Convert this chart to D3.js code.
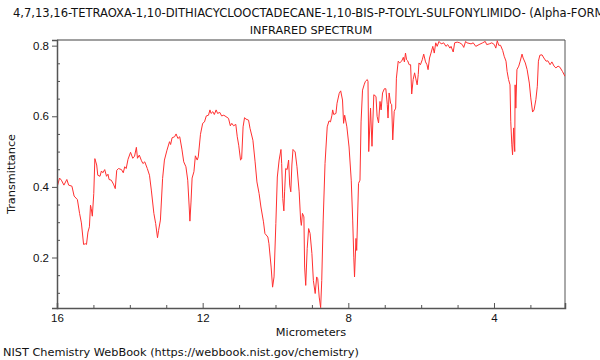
<!DOCTYPE html>
<html>
<head>
<meta charset="utf-8">
<script src="https://cdn.jsdelivr.net/npm/d3@7"></script>
<style>
  body { margin: 0; background: #fff; }
  svg { display: block; font-family: "DejaVu Sans", sans-serif; }
  .tick text { font-size: 11.5px; fill: #111; }
</style>
</head>
<body>
<svg id="chart"></svg>
<script>
// Spectrum (micrometers, transmittance)
const wavelength = [
  15.99,15.93,15.88,15.81,15.73,15.68,15.59,15.53,15.44,15.38,15.33,15.27,15.22,15.19,15.15,15.11,15.08,15.06,15.03,14.99,
  14.96,14.91,14.88,14.82,14.78,14.74,14.69,14.64,14.60,14.57,14.51,14.45,14.40,14.36,14.31,14.23,14.18,14.14,14.10,14.05,
  13.98,13.92,13.87,13.82,13.79,13.74,13.68,13.64,13.59,13.52,13.46,13.41,13.34,13.29,13.24,13.21,13.16,13.10,13.05,12.98,
  12.91,12.88,12.84,12.77,12.73,12.68,12.63,12.57,12.52,12.46,12.41,12.37,12.35,12.32,12.29,12.24,12.20,12.15,12.12,12.06,
  12.00,11.95,11.90,11.84,11.80,11.77,11.72,11.68,11.63,11.59,11.53,11.48,11.42,11.36,11.29,11.24,11.20,11.15,11.09,11.05,
  11.01,10.96,10.93,10.89,10.85,10.81,10.74,10.70,10.62,10.56,10.51,10.45,10.40,10.33,10.29,10.21,10.18,10.12,10.08,10.04,
  9.99,9.95,9.90,9.85,9.83,9.80,9.77,9.75,9.72,9.68,9.64,9.61,9.58,9.55,9.52,9.46,9.41,9.35,9.31,9.29,
  9.26,9.22,9.20,9.17,9.13,9.09,9.05,9.00,8.96,8.91,8.87,8.84,8.80,8.76,8.73,8.69,8.64,8.58,8.53,8.49,
  8.45,8.43,8.40,8.34,8.31,8.25,8.21,8.16,8.13,8.10,8.04,7.98,7.92,7.88,7.85,7.83,7.79,7.77,7.72,7.68,
  7.65,7.61,7.56,7.53,7.48,7.46,7.44,7.39,7.35,7.30,7.24,7.21,7.17,7.13,7.10,7.06,7.01,6.97,6.93,6.91,
  6.88,6.84,6.81,6.78,6.74,6.70,6.68,6.63,6.59,6.53,6.49,6.46,6.43,6.40,6.37,6.33,6.29,6.26,6.22,6.18,
  6.15,6.11,6.08,6.06,6.02,5.97,5.93,5.88,5.84,5.81,5.77,5.73,5.68,5.64,5.60,5.56,5.51,5.45,5.38,5.32,
  5.27,5.21,5.18,5.12,5.08,5.01,4.94,4.87,4.83,4.78,4.74,4.63,4.57,4.50,4.41,4.31,4.24,4.20,4.13,4.06,
  3.99,3.95,3.91,3.87,3.82,3.76,3.72,3.67,3.64,3.60,3.56,3.54,3.51,3.49,3.46,3.43,3.42,3.40,3.37,3.32,
  3.28,3.23,3.20,3.14,3.09,3.03,2.99,2.94,2.90,2.85,2.81,2.78,2.74,2.68,2.63,2.57,2.52,2.46,2.41,2.35,
  2.30,2.24,2.19,2.12,2.05
];
const transmittance = [
  0.402,0.425,0.419,0.405,0.421,0.405,0.402,0.374,0.364,0.325,0.298,0.237,0.239,0.237,0.272,0.287,0.348,0.339,0.317,0.381,
  0.480,0.462,0.433,0.430,0.445,0.440,0.449,0.430,0.436,0.421,0.419,0.408,0.395,0.447,0.452,0.449,0.440,0.457,0.452,0.478,
  0.498,0.481,0.487,0.512,0.481,0.490,0.474,0.466,0.471,0.452,0.433,0.391,0.325,0.296,0.256,0.277,0.306,0.424,0.476,0.504,
  0.528,0.520,0.539,0.542,0.550,0.537,0.542,0.507,0.471,0.457,0.419,0.343,0.303,0.357,0.425,0.443,0.488,0.476,0.485,0.549,
  0.580,0.584,0.601,0.603,0.618,0.608,0.613,0.605,0.618,0.608,0.611,0.601,0.603,0.599,0.594,0.573,0.580,0.573,0.577,0.542,
  0.518,0.476,0.479,0.570,0.596,0.592,0.589,0.566,0.532,0.471,0.414,0.381,0.343,0.301,0.268,0.258,0.239,0.173,0.116,0.145,
  0.296,0.428,0.476,0.506,0.466,0.367,0.332,0.386,0.452,0.449,0.476,0.405,0.386,0.462,0.506,0.499,0.457,0.386,0.306,0.291,
  0.325,0.315,0.173,0.121,0.225,0.282,0.268,0.211,0.135,0.098,0.145,0.140,0.088,0.058,0.135,0.306,0.466,0.570,0.587,0.584,
  0.603,0.618,0.605,0.608,0.637,0.665,0.672,0.646,0.580,0.603,0.570,0.513,0.419,0.306,0.201,0.145,0.254,0.220,0.410,0.419,
  0.584,0.674,0.691,0.699,0.704,0.699,0.500,0.623,0.515,0.661,0.656,0.600,0.581,0.642,0.618,0.666,0.678,0.678,0.633,0.595,
  0.666,0.637,0.633,0.533,0.614,0.623,0.708,0.756,0.751,0.757,0.767,0.754,0.779,0.760,0.757,0.746,0.746,0.663,0.704,0.723,
  0.708,0.689,0.718,0.751,0.746,0.760,0.776,0.754,0.746,0.732,0.765,0.779,0.798,0.779,0.808,0.798,0.812,0.805,0.808,0.798,
  0.803,0.793,0.798,0.782,0.808,0.810,0.808,0.803,0.795,0.812,0.808,0.805,0.808,0.798,0.803,0.808,0.812,0.803,0.805,0.808,
  0.803,0.793,0.814,0.801,0.801,0.786,0.770,0.756,0.727,0.704,0.689,0.586,0.519,0.491,0.567,0.500,0.689,0.623,0.732,0.742,
  0.756,0.776,0.765,0.751,0.732,0.694,0.652,0.612,0.618,0.647,0.685,0.756,0.773,0.774,0.765,0.756,0.757,0.746,0.754,0.742,
  0.737,0.742,0.739,0.727,0.713
];

const xMajor = [16, 12, 8, 4];
const xMinor = [15, 14, 13, 11, 10, 9, 7, 6, 5, 3];
const yMajor = [0.2, 0.4, 0.6, 0.8];
const yMinor = [0.1, 0.15, 0.25, 0.3, 0.35, 0.45, 0.5, 0.55, 0.65, 0.7, 0.75];

const titleText = "4,7,13,16-TETRAOXA-1,10-DITHIACYCLOOCTADECANE-1,10-BIS-P-TOLYL-SULFONYLIMIDO- (Alpha-FORM)";
const subTitle = "INFRARED SPECTRUM";
const xLabel = "Micrometers";
const yLabel = "Transmittance";
const footer = "NIST Chemistry WebBook (https://webbook.nist.gov/chemistry)";

const width = 600;
const height = 360;
const margin = { top: 40, right: 35, bottom: 52, left: 57 };
const innerW = width - margin.left - margin.right;
const innerH = height - margin.top - margin.bottom;
const fontSize = 11.3;

const points = wavelength.map((w, i) => ({ w: w, t: transmittance[i] }));

const svg = d3.select("#chart")
    .attr("width", width)
    .attr("height", height);

const x = d3.scaleLinear().domain([16, 2.05]).range([0, innerW]);
const y = d3.scaleLinear().domain([0.057, 0.816]).range([innerH, 0]);

const g = svg.append("g")
    .attr("transform", `translate(${margin.left},${margin.top})`);

svg.append("defs").append("clipPath").attr("id", "plotClip")
    .append("rect").attr("width", innerW).attr("height", innerH);

// frame: top light, right dark
g.append("line")
    .attr("x1", 0).attr("x2", innerW).attr("y1", 0).attr("y2", 0)
    .attr("stroke", "#a0a0a0").attr("stroke-width", 2);
g.append("line")
    .attr("x1", innerW).attr("x2", innerW).attr("y1", 0).attr("y2", innerH)
    .attr("stroke", "#555").attr("stroke-width", 1);

// spectrum
const line = d3.line().x(d => x(d.w)).y(d => y(d.t));
g.append("path")
    .datum(points)
    .attr("clip-path", "url(#plotClip)")
    .attr("fill", "none")
    .attr("stroke", "#ff3030")
    .attr("stroke-width", 1)
    .attr("stroke-linejoin", "round")
    .attr("d", line);

// x axis: ticks point inward
g.append("g")
    .attr("transform", `translate(0,${innerH})`)
    .call(d3.axisBottom(x).tickValues(xMajor).tickSize(-5).tickPadding(6).tickFormat(d3.format("d")));
g.append("g")
    .attr("transform", `translate(0,${innerH})`)
    .call(d3.axisBottom(x).tickValues(xMinor).tickSize(-3).tickFormat(""))
    .select(".domain").remove();

// y axis: major outward, minor inward
g.append("g")
    .call(d3.axisLeft(y).tickValues(yMajor).tickSize(5).tickPadding(3).tickFormat(d3.format(".1f")));
g.append("g")
    .call(d3.axisLeft(y).tickValues(yMinor).tickSize(-3).tickFormat(""))
    .select(".domain").remove();

g.selectAll(".domain").attr("stroke", "#555").attr("stroke-width", 1.5);
g.selectAll(".tick line").attr("stroke", "#555");

// texts (long title runs past the edge, as in the original)
svg.append("text")
    .attr("x", margin.left + innerW / 2).attr("y", 17)
    .attr("text-anchor", "middle").attr("font-size", 11.55).attr("fill", "#111")
    .text(titleText);
svg.append("text")
    .attr("x", margin.left + innerW / 2).attr("y", 34)
    .attr("text-anchor", "middle").attr("font-size", fontSize).attr("fill", "#111")
    .text(subTitle);
svg.append("text")
    .attr("x", margin.left + innerW / 2).attr("y", 336)
    .attr("text-anchor", "middle").attr("font-size", fontSize).attr("fill", "#111")
    .text(xLabel);
svg.append("text")
    .attr("transform", `translate(15,${margin.top + innerH / 2}) rotate(-90)`)
    .attr("text-anchor", "middle").attr("font-size", fontSize).attr("fill", "#111")
    .text(yLabel);
svg.append("text")
    .attr("x", 3).attr("y", 356)
    .attr("font-size", fontSize).attr("fill", "#111")
    .text(footer);
</script>
</body>
</html>
